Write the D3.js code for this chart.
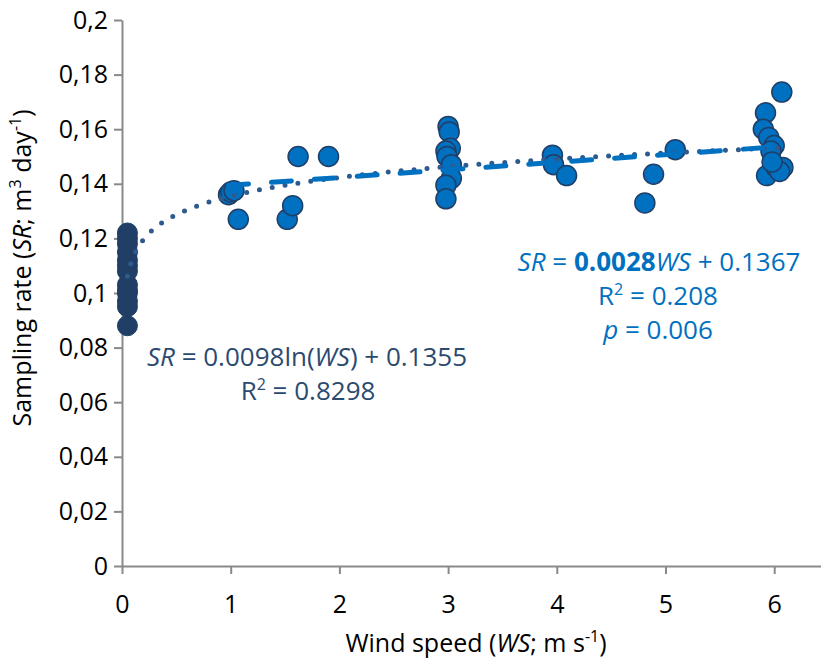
<!DOCTYPE html>
<meta charset="utf-8">
<html>
  <head>
    <script src="https://cdn.jsdelivr.net/npm/d3@7"></script>
    <style>
      body { margin: 0; background: #fff; }
      text { font-family: "Open Sans", "Noto Sans", sans-serif; }
    </style>
  </head>
  <body>
    <div id="chart"></div>

    <script type="text/javascript">
      // wind speed 0 (navy) points
      var calmWS = [0.05, 0.05, 0.05, 0.05, 0.05, 0.05, 0.05, 0.05, 0.05, 0.05, 0.05, 0.05, 0.05];
      var calmSR = [0.088, 0.095, 0.097, 0.100, 0.101, 0.103, 0.108, 0.110, 0.112, 0.115, 0.118, 0.120, 0.122];

      // windy (blue) points
      var windWS = [0.98, 1.00, 1.03, 1.07, 1.52, 1.57, 1.62, 1.90,
                    3.00, 3.01, 3.02, 2.98, 2.99, 3.03, 3.03, 2.98, 2.98,
                    3.96, 3.97, 4.09, 4.81, 4.89, 5.09,
                    6.07, 5.92, 5.90, 5.95, 6.00, 5.97, 5.93, 6.02, 6.08, 6.05, 5.98];
      var windSR = [0.136, 0.137, 0.1375, 0.127, 0.127, 0.132, 0.150, 0.150,
                    0.161, 0.159, 0.153, 0.152, 0.150, 0.147, 0.142, 0.1395, 0.1345,
                    0.1505, 0.147, 0.143, 0.133, 0.1435, 0.1525,
                    0.1736, 0.166, 0.160, 0.157, 0.154, 0.152, 0.143, 0.146, 0.146, 0.1445, 0.148];

      var xTicks = [0, 1, 2, 3, 4, 5, 6];
      var yTicks = [0, 0.02, 0.04, 0.06, 0.08, 0.1, 0.12, 0.14, 0.16, 0.18, 0.2];

      // trend lines: log fit on all data, linear fit on windy data
      var logA = 0.0098, logB = 0.1355;
      var linA = 0.0028, linB = 0.1367;

      var width = 821, height = 661;

      var x = d3.scaleLinear().domain([0, 7]).range([122, 122 + 7 * 108.7]);
      var y = d3.scaleLinear().domain([0, 0.2]).range([566, 20]);

      var comma = d3.formatLocale({decimal: ",", thousands: ".", grouping: [3], currency: ["", ""]});
      var fmt = comma.format("~g");

      var svg = d3.select("#chart").append("svg")
          .attr("width", width)
          .attr("height", height);

      // axes
      var gx = svg.append("g")
          .attr("transform", "translate(0," + y(0) + ")")
          .call(d3.axisBottom(x).tickValues(xTicks).tickFormat(d3.format("d")).tickSize(8).tickSizeOuter(0).tickPadding(21));
      var gy = svg.append("g")
          .attr("transform", "translate(" + x(0) + ",0)")
          .call(d3.axisLeft(y).tickValues(yTicks).tickFormat(fmt).tickSize(8).tickSizeOuter(0).tickPadding(6));

      [gx, gy].forEach(function(g){
        g.select(".domain").attr("stroke", "#898989").attr("stroke-width", 2);
        g.selectAll(".tick line").attr("stroke", "#898989").attr("stroke-width", 2);
        g.selectAll(".tick text").attr("fill", "#000").style("font-size", "25px");
      });

      // points
      var calm = calmWS.map(function(d, i){ return {ws: d, sr: calmSR[i]}; });
      var wind = windWS.map(function(d, i){ return {ws: d, sr: windSR[i]}; });

      svg.append("g").selectAll("circle")
          .data(calm)
          .enter().append("circle")
          .attr("cx", function(d){ return x(d.ws); })
          .attr("cy", function(d){ return y(d.sr); })
          .attr("r", 10)
          .style("fill", "#213e66")
          .style("stroke", "#213e66");

      svg.append("g").selectAll("circle")
          .data(wind)
          .enter().append("circle")
          .attr("cx", function(d){ return x(d.ws); })
          .attr("cy", function(d){ return y(d.sr); })
          .attr("r", 10)
          .style("fill", "#0070c0")
          .style("stroke", "#213e66")
          .style("stroke-width", 1.5);

      // log trend (dotted)
      var logPts = d3.range(0.05, 6.08, 0.02).map(function(w){ return [w, logA * Math.log(w) + logB]; });
      svg.append("path")
          .datum(logPts)
          .attr("d", d3.line().x(function(d){ return x(d[0]); }).y(function(d){ return y(d[1]); }))
          .style("fill", "none")
          .style("stroke", "#2e5b8f")
          .style("stroke-width", 5)
          .style("stroke-linecap", "round")
          .style("stroke-dasharray", "0,13");

      // linear trend (dashed)
      var linPts = [0.98, 6.08].map(function(w){ return [w, linA * w + linB]; });
      svg.append("path")
          .datum(linPts)
          .attr("d", d3.line().x(function(d){ return x(d[0]); }).y(function(d){ return y(d[1]); }))
          .style("fill", "none")
          .style("stroke", "#0070c0")
          .style("stroke-width", 5)
          .style("stroke-linecap", "round")
          .style("stroke-dasharray", "20,23");

      // equations
      var eqR = svg.append("g").style("fill", "#0070c0").style("font-size", "26px").attr("text-anchor", "middle");
      var t1 = eqR.append("text").attr("x", 659).attr("y", 271);
      t1.append("tspan").style("font-style", "italic").text("SR");
      t1.append("tspan").text(" = ");
      t1.append("tspan").style("font-weight", "bold").text("0.0028");
      t1.append("tspan").style("font-style", "italic").text("WS");
      t1.append("tspan").text(" + 0.1367");
      var t2 = eqR.append("text").attr("x", 658).attr("y", 305);
      t2.append("tspan").text("R");
      t2.append("tspan").attr("dy", -10).style("font-size", "16px").text("2");
      t2.append("tspan").attr("dy", 10).text(" = 0.208");
      var t3 = eqR.append("text").attr("x", 658).attr("y", 339);
      t3.append("tspan").style("font-style", "italic").text("p");
      t3.append("tspan").text(" = 0.006");

      var eqL = svg.append("g").style("fill", "#2b4a70").style("font-size", "26px").attr("text-anchor", "middle");
      var t4 = eqL.append("text").attr("x", 307).attr("y", 366);
      t4.append("tspan").style("font-style", "italic").text("SR");
      t4.append("tspan").text(" = 0.0098ln(");
      t4.append("tspan").style("font-style", "italic").text("WS");
      t4.append("tspan").text(") + 0.1355");
      var t5 = eqL.append("text").attr("x", 308).attr("y", 400);
      t5.append("tspan").text("R");
      t5.append("tspan").attr("dy", -10).style("font-size", "16px").text("2");
      t5.append("tspan").attr("dy", 10).text(" = 0.8298");

      // axis titles
      var xt = svg.append("text")
          .attr("x", 476).attr("y", 652)
          .attr("text-anchor", "middle")
          .style("font-size", "25px");
      xt.append("tspan").text("Wind speed (");
      xt.append("tspan").style("font-style", "italic").text("WS");
      xt.append("tspan").text("; m s");
      xt.append("tspan").attr("dy", -10).style("font-size", "16px").text("-1");
      xt.append("tspan").attr("dy", 10).text(")");

      var yt = svg.append("text")
          .attr("transform", "translate(31,268) rotate(-90)")
          .attr("text-anchor", "middle")
          .style("font-size", "25px");
      yt.append("tspan").text("Sampling rate (");
      yt.append("tspan").style("font-style", "italic").text("SR");
      yt.append("tspan").text("; m");
      yt.append("tspan").attr("dy", -10).style("font-size", "16px").text("3");
      yt.append("tspan").attr("dy", 10).text(" day");
      yt.append("tspan").attr("dy", -10).style("font-size", "16px").text("-1");
      yt.append("tspan").attr("dy", 10).text(")");
    </script>
  </body>
</html>
